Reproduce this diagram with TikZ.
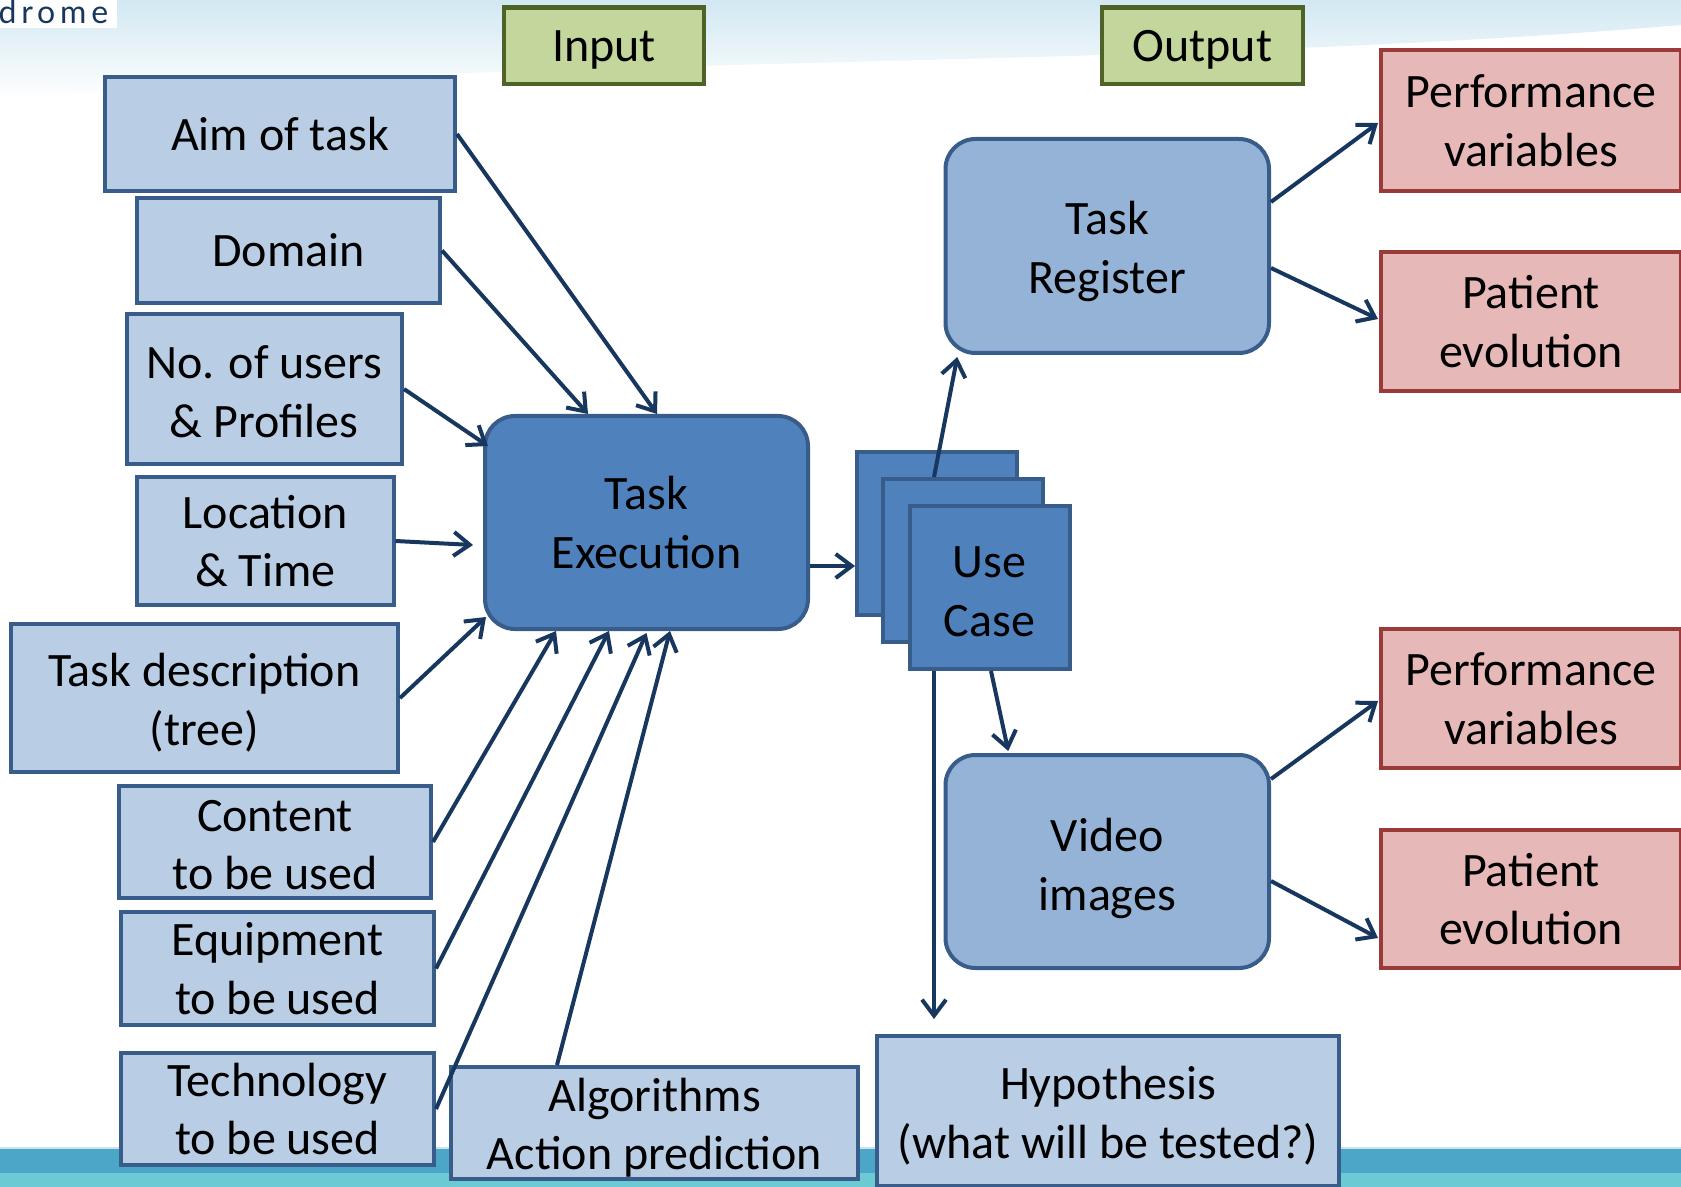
\documentclass[tikz,border=0pt]{standalone}
\usepackage{fontspec}
\setmainfont{Carlito}
\newfontfamily\logofont[LetterSpace=15]{Lato}
\usetikzlibrary{arrows.meta,calc}

\definecolor{boxline}{HTML}{385D8A}
\definecolor{lightfill}{HTML}{B9CDE5}
\definecolor{midfill}{HTML}{95B3D7}
\definecolor{darkfill}{HTML}{4F81BD}
\definecolor{greenfill}{HTML}{C3D69B}
\definecolor{greenline}{HTML}{4F6228}
\definecolor{redfill}{HTML}{E6B9B8}
\definecolor{redline}{HTML}{9B3B39}
\definecolor{arrowc}{HTML}{17375E}
\definecolor{skyc}{HTML}{D2E8F2}
\definecolor{banddark}{HTML}{4BA6C8}
\definecolor{bandlight}{HTML}{6CCAD5}

% lowers the text of a box: height of its first line
\newcommand\drop[1]{\rule{0pt}{#1}}

\tikzset{every picture/.style={line width=0.75pt}}
\tikzset{
  box/.style={draw=boxline, line width=2pt, align=center, inner sep=0pt,
    font=\fontsize{24}{29.3}\selectfont},
  inbox/.style={box, fill=lightfill},
  procbox/.style={box, fill=darkfill, rounded corners=15pt},
  resbox/.style={box, fill=midfill, rounded corners=15pt},
  card/.style={box, fill=darkfill, minimum width=80pt, minimum height=81.5pt},
  tagbox/.style={box, draw=greenline, line width=2.2pt, fill=greenfill},
  outbox/.style={box, draw=redline, fill=redfill, minimum width=150pt},
  arr/.style={draw=arrowc, line width=2pt, -{Straight Barb[length=8pt,width=12pt]}},
}

\begin{document}
\begin{tikzpicture}[x=0.5pt,y=0.5pt,yscale=-1,xscale=1]
	\useasboundingbox (0,0) rectangle (1681,1187);

	%Background: sky wave
	\shade[top color=skyc, bottom color=white] (0,0) -- (1681,0) -- (1681,25) .. controls (1150,70) and (500,55) .. (0,100) -- cycle;
	\fill[white, opacity=0.5] (0,160) .. controls (400,95) and (900,160) .. (1681,50) -- (1681,90) .. controls (900,200) and (400,140) .. (0,200) -- cycle;
	%Background: bottom band
	\fill[banddark] (0,1148) rectangle (1681,1173);
	\fill[bandlight] (0,1173) rectangle (1681,1187);
	\draw[white!70!banddark, line width=1pt] (0,1148) -- (1681,1148);
	%Logo fragment
	\fill[white] (0,0) rectangle (117,28);
	\node[anchor=base west, inner sep=0pt, text=arrowc, font=\logofont\fontsize{16}{18}\selectfont] (logo) at (-2,24) {drome};

	%Headings
	\node[tagbox, minimum width=100pt, minimum height=38.25pt] (input) at (604,45.75) {\drop{19.8pt}Input};
	\node[tagbox, minimum width=100.5pt, minimum height=38.25pt] (output) at (1202.5,45.75) {\drop{20pt}Output};

	%Inputs
	\node[inbox, minimum width=175pt, minimum height=57pt] (aim) at (280,134) {Aim of task};
	\node[inbox, minimum width=151.5pt, minimum height=52.5pt] (domain) at (288.5,250.5) {Domain};
	\node[inbox, minimum width=137.75pt, minimum height=75pt] (users) at (264.25,389) {\drop{19.3pt}No. of users\\\& Profiles};
	\node[inbox, minimum width=128.25pt, minimum height=64pt] (loc) at (265.25,541) {Location\\\& Time};
	\node[inbox, minimum width=193.65pt, minimum height=74pt] (tdesc) at (204.35,698) {\drop{21.3pt}Task description\\(tree)};
	\node[inbox, minimum width=156pt, minimum height=56pt] (content) at (275,842) {\drop{18.5pt}Content\\to be used};
	\node[inbox, minimum width=156.5pt, minimum height=56.5pt] (equip) at (277.5,968.5) {Equipment\\to be used};
	\node[inbox, minimum width=156.5pt, minimum height=56pt] (tech) at (277.5,1109) {Technology\\to be used};
	\node[inbox, minimum width=203.5pt, minimum height=56pt] (algo) at (654.5,1123) {\drop{21.3pt}Algorithms\\Action prediction};
	\node[inbox, minimum width=231pt, minimum height=75pt] (hyp) at (1108,1111) {\drop{21.3pt}Hypothesis\\(what will be tested?)};

	%Process
	\node[procbox, minimum width=161.5pt, minimum height=106.5pt] (texec) at (646.5,522.5) {Task\\Execution};
	\node[card] (ucback) at (937,533.5) {};
	\node[card] (ucmid) at (963,560.5) {};
	\node[card] (ucfront) at (989.5,587.5) {\drop{19.5pt}Use\\Case};

	%Results
	\node[resbox, minimum width=161.75pt, minimum height=107pt] (treg) at (1107.25,246) {\drop{22.4pt}Task\\Register};
	\node[resbox, minimum width=161.75pt, minimum height=106.5pt] (video) at (1107.25,861.5) {\drop{23.4pt}Video\\images};

	%Outputs
	\node[outbox, minimum height=70.5pt] (pvtop) at (1531,120.5) {Performance\\variables};
	\node[outbox, minimum height=69.5pt] (petop) at (1531,321.5) {Patient\\evolution};
	\node[outbox, minimum height=69.5pt] (pvbot) at (1531,698.5) {Performance\\variables};
	\node[outbox, minimum height=69pt] (pebot) at (1531,899) {Patient\\evolution};

	%Arrows into task execution
	\draw[arr] (aim.east) -- ($(texec.north)+(10.5,0)$);
	\draw[arr] (domain.east) -- ($(texec.north)+(-58.5,0)$);
	\draw[arr] (users.east) -- ($(texec.north west)+(5,32)$);
	\draw[arr] (loc.east) -- ($(texec.west)+(-10,22.5)$);
	\draw[arr] (tdesc.east) -- ($(texec.south west)+(3,-14)$);
	\draw[arr] (content.east) -- ($(texec.south)+(-90.5,0)$);
	\draw[arr] (equip.east) -- ($(texec.south)+(-37.5,0)$);
	\draw[arr] (tech.east) -- ($(texec.south)+(0,2)$);
	\draw[arr] ($(algo.north)+(-97.5,0)$) -- ($(texec.south)+(23.5,0)$);

	%Arrows out of task execution
	\draw[arr] ($(texec.east)+(0,43.5)$) -- ($(ucback.west)+(0,32.5)$);
	\draw[arr] ($(ucmid.north)+(-29,0)$) -- ($(treg.south)+(-150,2)$);
	\draw[arr] ($(ucfront.south)+(1.5,0)$) -- ($(video.north)+(-99,-2)$);
	\draw[arr] ($(ucfront.south)+(-55.5,0)$) -- ($(hyp.north)+(-174,-15)$);

	%Arrows to outputs
	\draw[arr] ($(treg.east)+(0,-44)$) -- ($(pvtop.west)+(-1,2.5)$);
	\draw[arr] ($(treg.east)+(0,22)$) -- ($(petop.west)+(-1,-2.5)$);
	\draw[arr] ($(video.east)+(0,-82.5)$) -- ($(pvbot.west)+(-1,2.5)$);
	\draw[arr] ($(video.east)+(0,19.5)$) -- ($(pebot.west)+(-1,39)$);

\end{tikzpicture}
\end{document}
